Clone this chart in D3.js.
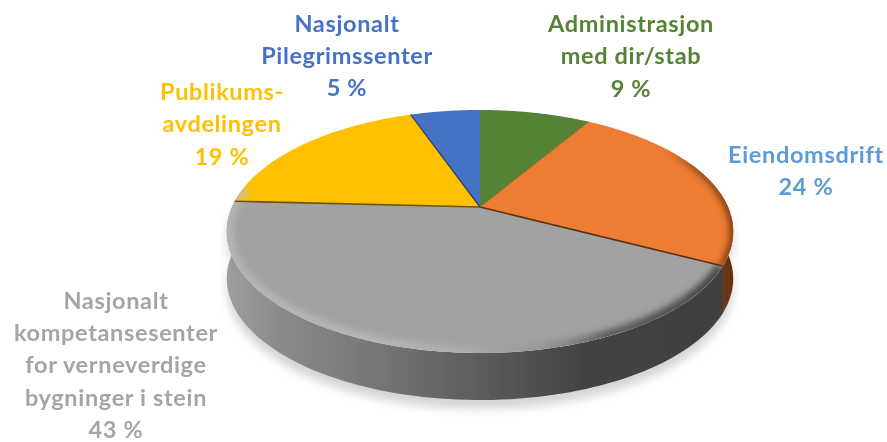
<!DOCTYPE html>
<html><head><meta charset="utf-8">
<script src="https://cdn.jsdelivr.net/npm/d3@7"></script>
<style>html,body{margin:0;padding:0;background:#fff}svg{display:block}
text{font-family:Lato,"Open Sans",sans-serif;font-weight:700;font-size:23.5px;letter-spacing:0.65px;text-anchor:middle}</style>
</head><body><svg id="c" width="887" height="442"></svg>
<script>
const categories = ["Administrasjon med dir/stab","Eiendomsdrift","Nasjonalt kompetansesenter for verneverdige bygninger i stein","Publikumsavdelingen","Nasjonalt Pilegrimssenter"];
const values = [8.6,24,43.2,18.8,5.4];
const colors = ["#548235","#ed7d31","#a2a2a2","#ffc000","#4472c4"];
const labelColors = ["#548235","#5b9bd5","#a5a5a5","#ffc000","#4472c4"];
const labelLines = [["Administrasjon","med dir/stab"],["Eiendomsdrift"],["Nasjonalt","kompetansesenter","for verneverdige","bygninger i stein"],["Publikums-","avdelingen"],["Nasjonalt","Pilegrimssenter"]];
const labelPos = [[631,32],[806,163],[116,308.5],[222,100],[347,31.5]];
const lineGap = 32.4;

const svg = d3.select("#c"), defs = svg.append("defs");
const X0=480,Y0=207,A=248,B=116.6,K=0.2016,DEPTH=47;
const proj = t => { const u=Math.sin(t), v=-Math.cos(t), d=1-K*v; return [X0+A*u/d, Y0+B*v/d]; };
const arcPts = (a,b) => d3.range(0,101).map(i=>proj(a+(b-a)*i/100));
const line = d3.line();
const pie = d3.pie().sort(null).value(d=>d)(values);

function grad(id,stops,x1=220,x2=740){const g=defs.append("linearGradient").attr("id",id).attr("gradientUnits","userSpaceOnUse").attr("x1",x1).attr("x2",x2).attr("y1",0).attr("y2",0);
 stops.forEach(s=>g.append("stop").attr("offset",s[0]).attr("stop-color",s[1]).attr("stop-opacity",s[2]===undefined?1:s[2]));}
grad("wallGrey",[[0,"#a0a0a0"],[0.12,"#8a8a8a"],[0.3,"#767676"],[0.5,"#5c5c5c"],[0.7,"#434343"],[1,"#404040"]]);
grad("wallOrange",[[0,"#8a4a1c"],[1,"#5f3010"]],700,735);
grad("hl",[[0,"#bcbcbc",0.7],[0.3,"#c4c4c4",0.6],[0.48,"#bababa",0.4],[0.58,"#8c8c8c",0.2],[0.74,"#505050",0.8],[1,"#404040",1]]);
grad("hlO",[[0,"#ed7d31",0],[0.5,"#7a3f14",0.8],[1,"#6a3410",1]],650,735);
const blur=(id,s)=>defs.append("filter").attr("id",id).attr("x","-20%").attr("y","-20%").attr("width","140%").attr("height","140%").append("feGaussianBlur").attr("stdDeviation",s);
blur("b6",5);blur("b2",3);blur("b04",0.4);

const FRONT0=Math.PI/2-0.42, FRONT1=Math.PI*1.5+0.18;
const wallPath=(a,b)=>{const rim=arcPts(a,b),bot=arcPts(a,b).map(p=>[p[0],p[1]+DEPTH]).reverse();return line(rim.concat(bot))+"Z";};

// soft shadow
svg.append("path").attr("d",wallPath(FRONT0,FRONT1)).attr("transform","translate(0,9)")
  .attr("fill","#000").attr("opacity",0.17).attr("filter","url(#b6)");
// orange and grey walls
const split=pie[1].endAngle;
svg.append("path").attr("d",wallPath(FRONT0,split+0.03)).attr("fill","url(#wallOrange)").attr("filter","url(#b04)");
svg.append("path").attr("d",wallPath(split,FRONT1)).attr("fill","url(#wallGrey)").attr("filter","url(#b04)");

// top face
const sliceD=d=>line([[X0,Y0]].concat(arcPts(d.startAngle,d.endAngle)))+"Z";
const clip=defs.append("clipPath").attr("id","face");
clip.append("path").attr("d",line(arcPts(0,2*Math.PI))+"Z");
const face=svg.append("g");
face.selectAll("path.s").data(pie).join("path").attr("class","s").attr("d",sliceD)
  .attr("fill",(d,i)=>colors[i]).attr("filter","url(#b04)");

// bevel along the rim
const bev=face.append("g").attr("clip-path","url(#face)");
bev.append("path").attr("d",line(arcPts(split+0.02,FRONT1))).attr("fill","none")
  .attr("stroke","url(#hl)").attr("stroke-width",13).attr("filter","url(#b2)");
bev.append("path").attr("d",line(arcPts(0.9,split))).attr("fill","none")
  .attr("stroke","url(#hlO)").attr("stroke-width",7).attr("filter","url(#b2)");

// slice separators
const seps=[[pie[1].endAngle,"#5a3010",1.6],[pie[2].endAngle,"#6b5510",1.6],[pie[3].endAngle,"#33406a",1.3],[pie[0].endAngle,"#8a5a2a",0.8],[0,"#c0cce0",1]];
face.selectAll("path.sep").data(seps).join("path").attr("class","sep")
  .attr("d",d=>line([[X0,Y0],proj(d[0])])).attr("stroke",d=>d[1]).attr("stroke-width",d=>d[2])
  .attr("fill","none").attr("filter","url(#b04)");

// labels
const lg=svg.append("g").attr("filter","url(#b04)");
categories.forEach((c,i)=>{
  const t=lg.append("text").attr("fill",labelColors[i]).attr("x",labelPos[i][0]).attr("y",labelPos[i][1]);
  labelLines[i].concat([Math.round(values[i])+" %"]).forEach((s,j)=>t.append("tspan").attr("x",labelPos[i][0]).attr("y",labelPos[i][1]+j*lineGap).text(s));
});
</script></body></html>
